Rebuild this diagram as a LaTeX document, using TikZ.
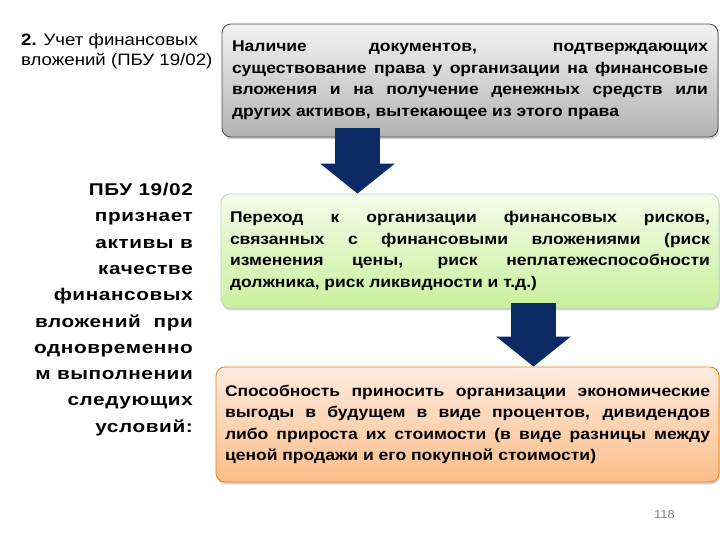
\documentclass[tikz,border=0pt]{standalone}
\usepackage{fontspec}
\setmainfont{Liberation Sans}[FakeStretch=1.13]
\usetikzlibrary{arrows.meta,shadows,calc}

\definecolor{navyblue}{HTML}{0B2A66}
\definecolor{boxgrayA}{HTML}{F2F2F2}
\definecolor{boxgrayB}{HTML}{B3B3B3}
\definecolor{boxgreenA}{HTML}{F6FCEA}
\definecolor{boxgreenB}{HTML}{C8F09C}
\definecolor{boxorangeA}{HTML}{FDEBDF}
\definecolor{boxorangeB}{HTML}{FBBD88}

\tikzset{
  condbox/.style={rounded corners=9pt, line width=0.8pt, align=justify, inner xsep=9pt,
    font=\fontsize{15.5}{21.5}\selectfont\bfseries,
    drop shadow={shadow xshift=1pt, shadow yshift=-2.5pt, opacity=0.35}},
  fatarrow/.style={navyblue, line width=45pt, -{Triangle[length=30pt,width=73pt]}}
}

\begin{document}
\hyphenpenalty=10000 \exhyphenpenalty=10000 \tolerance=10000
\begin{tikzpicture}[x=1pt,y=1pt]
\useasboundingbox (0,0) rectangle (720,540);

\node[anchor=north west, align=left, inner sep=0, font=\fontsize{16.5}{20}\selectfont] (title) at (21,507)
  {\textbf{2.} Учет финансовых\\вложений (ПБУ 19/02)};

\node[anchor=north east, align=right, inner sep=0, font=\fontsize{17}{26.3}\selectfont\bfseries\addfontfeature{FakeStretch=1.22,LetterSpace=3.5}] (rule) at (193,357)
  {ПБУ 19/02\\признает\\активы в\\качестве\\финансовых\\вложений~~при\\одновременно\\м выполнении~\\следующих\\условий:};

% conditions
\node[condbox, draw=black!70, top color=boxgrayA, bottom color=boxgrayB, minimum width=496pt, text width=476pt, minimum height=113pt] (cond1) at (470,459.5)
  {Наличие документов, подтверждающих\linebreak существование права у организации на финансовые\linebreak вложения и на получение денежных средств или\linebreak других активов, вытекающее из этого права};
\node[condbox, draw=green!35!black!25, top color=boxgreenA, bottom color=boxgreenB, minimum width=496pt, text width=480pt, minimum height=114pt] (cond2) at (470,289)
  {Переход к организации финансовых рисков,\linebreak связанных с финансовыми вложениями (риск\linebreak изменения цены, риск неплатежеспособности\linebreak должника, риск ликвидности и т.д.)};
\node[condbox, draw=orange!70!brown, top color=boxorangeA, bottom color=boxorangeB, minimum width=501pt, text width=485pt, minimum height=115pt] (cond3) at (467.5,115.5)
  {Способность приносить организации экономические\linebreak выгоды в будущем в виде процентов, дивидендов\linebreak либо прироста их стоимости (в виде разницы между\linebreak ценой продажи и его покупной стоимости)};

% arrows
\coordinate (a1) at ($(cond1.south)+(-112.5,9)$);
\coordinate (a2) at ($(cond2.south)+(63.5,5)$);
\draw[fatarrow] (a1) -- (a1 |- cond2.north);
\draw[fatarrow] (a2) -- (a2 |- cond3.north);

\node[gray, font=\fontsize{11.5}{13}\selectfont] (pagenum) at (664.5,25) {118};

\end{tikzpicture}
\end{document}
